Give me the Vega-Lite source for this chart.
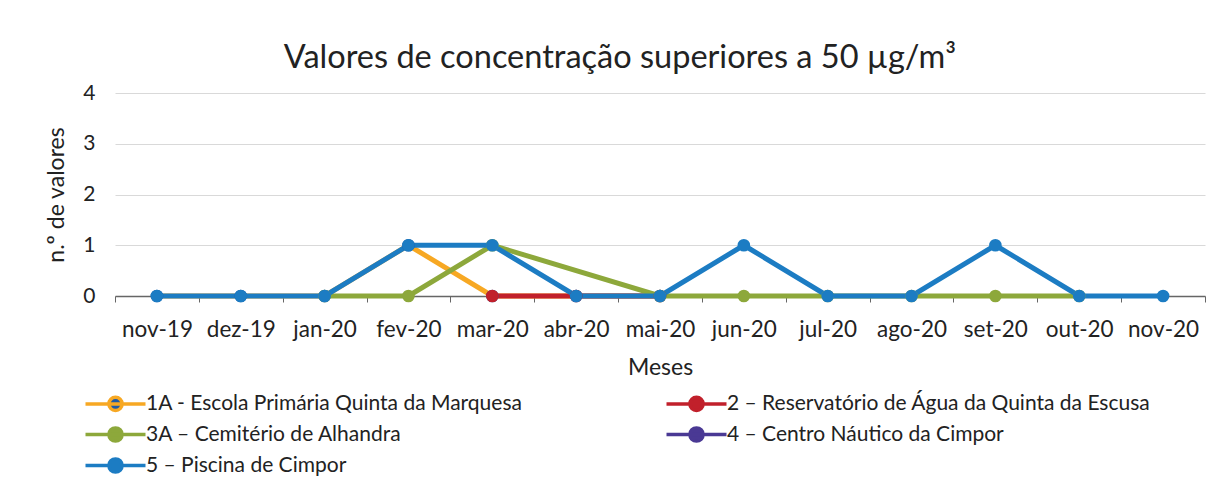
{
  "$schema": "https://vega.github.io/schema/vega-lite/v6.json",
  "width": 1090,
  "height": 203,
  "autosize": {"type": "none"},
  "padding": {"left": 115, "top": 93, "right": 18, "bottom": 193},
  "background": "white",
  "config": {
    "font": "Lato",
    "view": {"stroke": null}
  },
  "title": {
    "text": "Valores de concentração superiores a 50 µg/m³",
    "fontSize": 32.5,
    "fontWeight": "normal",
    "color": "#222222",
    "anchor": "middle",
    "dx": -40,
    "offset": 8
  },
  "data": {
    "values": [
      {"mes": "nov-19", "serie": "1A - Escola Primária Quinta da Marquesa", "n": 0},
      {"mes": "dez-19", "serie": "1A - Escola Primária Quinta da Marquesa", "n": 0},
      {"mes": "jan-20", "serie": "1A - Escola Primária Quinta da Marquesa", "n": 0},
      {"mes": "fev-20", "serie": "1A - Escola Primária Quinta da Marquesa", "n": 1},
      {"mes": "mar-20", "serie": "1A - Escola Primária Quinta da Marquesa", "n": 0},
      {"mes": "abr-20", "serie": "1A - Escola Primária Quinta da Marquesa", "n": 0},
      {"mes": "mai-20", "serie": "1A - Escola Primária Quinta da Marquesa", "n": 0},
      {"mes": "mar-20", "serie": "2 – Reservatório de Água da Quinta da Escusa", "n": 0},
      {"mes": "abr-20", "serie": "2 – Reservatório de Água da Quinta da Escusa", "n": 0},
      {"mes": "mai-20", "serie": "2 – Reservatório de Água da Quinta da Escusa", "n": 0},
      {"mes": "jan-20", "serie": "3A – Cemitério de Alhandra", "n": 0},
      {"mes": "fev-20", "serie": "3A – Cemitério de Alhandra", "n": 0},
      {"mes": "mar-20", "serie": "3A – Cemitério de Alhandra", "n": 1},
      {"mes": "mai-20", "serie": "3A – Cemitério de Alhandra", "n": 0},
      {"mes": "jun-20", "serie": "3A – Cemitério de Alhandra", "n": 0},
      {"mes": "jul-20", "serie": "3A – Cemitério de Alhandra", "n": 0},
      {"mes": "ago-20", "serie": "3A – Cemitério de Alhandra", "n": 0},
      {"mes": "set-20", "serie": "3A – Cemitério de Alhandra", "n": 0},
      {"mes": "out-20", "serie": "3A – Cemitério de Alhandra", "n": 0},
      {"mes": "nov-19", "serie": "5 – Piscina de Cimpor", "n": 0},
      {"mes": "dez-19", "serie": "5 – Piscina de Cimpor", "n": 0},
      {"mes": "jan-20", "serie": "5 – Piscina de Cimpor", "n": 0},
      {"mes": "fev-20", "serie": "5 – Piscina de Cimpor", "n": 1},
      {"mes": "mar-20", "serie": "5 – Piscina de Cimpor", "n": 1},
      {"mes": "abr-20", "serie": "5 – Piscina de Cimpor", "n": 0},
      {"mes": "mai-20", "serie": "5 – Piscina de Cimpor", "n": 0},
      {"mes": "jun-20", "serie": "5 – Piscina de Cimpor", "n": 1},
      {"mes": "jul-20", "serie": "5 – Piscina de Cimpor", "n": 0},
      {"mes": "ago-20", "serie": "5 – Piscina de Cimpor", "n": 0},
      {"mes": "set-20", "serie": "5 – Piscina de Cimpor", "n": 1},
      {"mes": "out-20", "serie": "5 – Piscina de Cimpor", "n": 0},
      {"mes": "nov-20", "serie": "5 – Piscina de Cimpor", "n": 0}
    ]
  },
  "encoding": {
    "x": {
      "field": "mes",
      "type": "ordinal",
      "sort": ["nov-19", "dez-19", "jan-20", "fev-20", "mar-20", "abr-20", "mai-20", "jun-20", "jul-20", "ago-20", "set-20", "out-20", "nov-20"],
      "scale": {"type": "band", "domain": ["nov-19", "dez-19", "jan-20", "fev-20", "mar-20", "abr-20", "mai-20", "jun-20", "jul-20", "ago-20", "set-20", "out-20", "nov-20"], "paddingInner": 0, "paddingOuter": 0},
      "axis": {
        "title": "Meses",
        "labelAngle": 0,
        "labelFontSize": 22.5,
        "labelColor": "#222222",
        "titleFontSize": 23,
        "titleFontWeight": "normal",
        "titleColor": "#222222",
        "titlePadding": 16,
        "domainColor": "#666666",
        "domainWidth": 1.5,
        "tickColor": "#666666",
        "tickSize": 6,
        "tickBand": "extent",
        "labelPadding": 16,
        "grid": false
      }
    },
    "y": {
      "field": "n",
      "type": "quantitative",
      "scale": {"domain": [0, 4]},
      "axis": {
        "title": "n.º de valores",
        "values": [0, 1, 2, 3, 4],
        "labelFontSize": 21,
        "labelColor": "#222222",
        "titleFontSize": 23,
        "titleFontWeight": "normal",
        "titleColor": "#222222",
        "titlePadding": 14,
        "domain": false,
        "ticks": false,
        "labelPadding": 20,
        "gridColor": "#d9d9d9",
        "gridWidth": 1.2
      }
    }
  },
  "layer": [
    {
      "mark": {"type": "line", "strokeWidth": 5},
      "encoding": {
        "color": {
          "field": "serie",
          "type": "nominal",
          "scale": {
            "domain": ["1A - Escola Primária Quinta da Marquesa", "2 – Reservatório de Água da Quinta da Escusa", "3A – Cemitério de Alhandra", "4 – Centro Náutico da Cimpor", "5 – Piscina de Cimpor"],
            "range": ["#F7A823", "#C1202B", "#8DA83B", "#4A3994", "#1C7CC3"]
          },
          "legend": {
            "title": null,
            "orient": "none",
            "direction": "horizontal",
            "legendX": -10,
            "legendY": 300,
            "columns": 2,
            "columnPadding": 136,
            "rowPadding": 2,
            "labelFontSize": 21,
            "labelColor": "#222222",
            "labelLimit": 700,
            "symbolType": "M-5,0H5M-1.1,0A1.1,1.1 0 1,1 1.1,0A1.1,1.1 0 1,1 -1.1,0Z",
            "symbolSize": 144,
            "symbolStrokeWidth": 3.5,
            "labelOffset": 20,
            "encode": {
              "symbols": {
                "update": {
                  "fill": {"scale": "fill", "field": "value"},
                  "fillOpacity": {"value": 1},
                  "opacity": {"value": 1}
                }
              }
            }
          }
        }
      }
    },
    {
      "mark": {"type": "point", "filled": true, "size": 160, "opacity": 1},
      "encoding": {
        "fill": {
          "field": "serie",
          "type": "nominal",
          "scale": {
            "domain": ["1A - Escola Primária Quinta da Marquesa", "2 – Reservatório de Água da Quinta da Escusa", "3A – Cemitério de Alhandra", "4 – Centro Náutico da Cimpor", "5 – Piscina de Cimpor"],
            "range": ["#1F5AA6", "#C1202B", "#8DA83B", "#4A3994", "#1C7CC3"]
          },
          "legend": null
        }
      }
    }
  ]
}
